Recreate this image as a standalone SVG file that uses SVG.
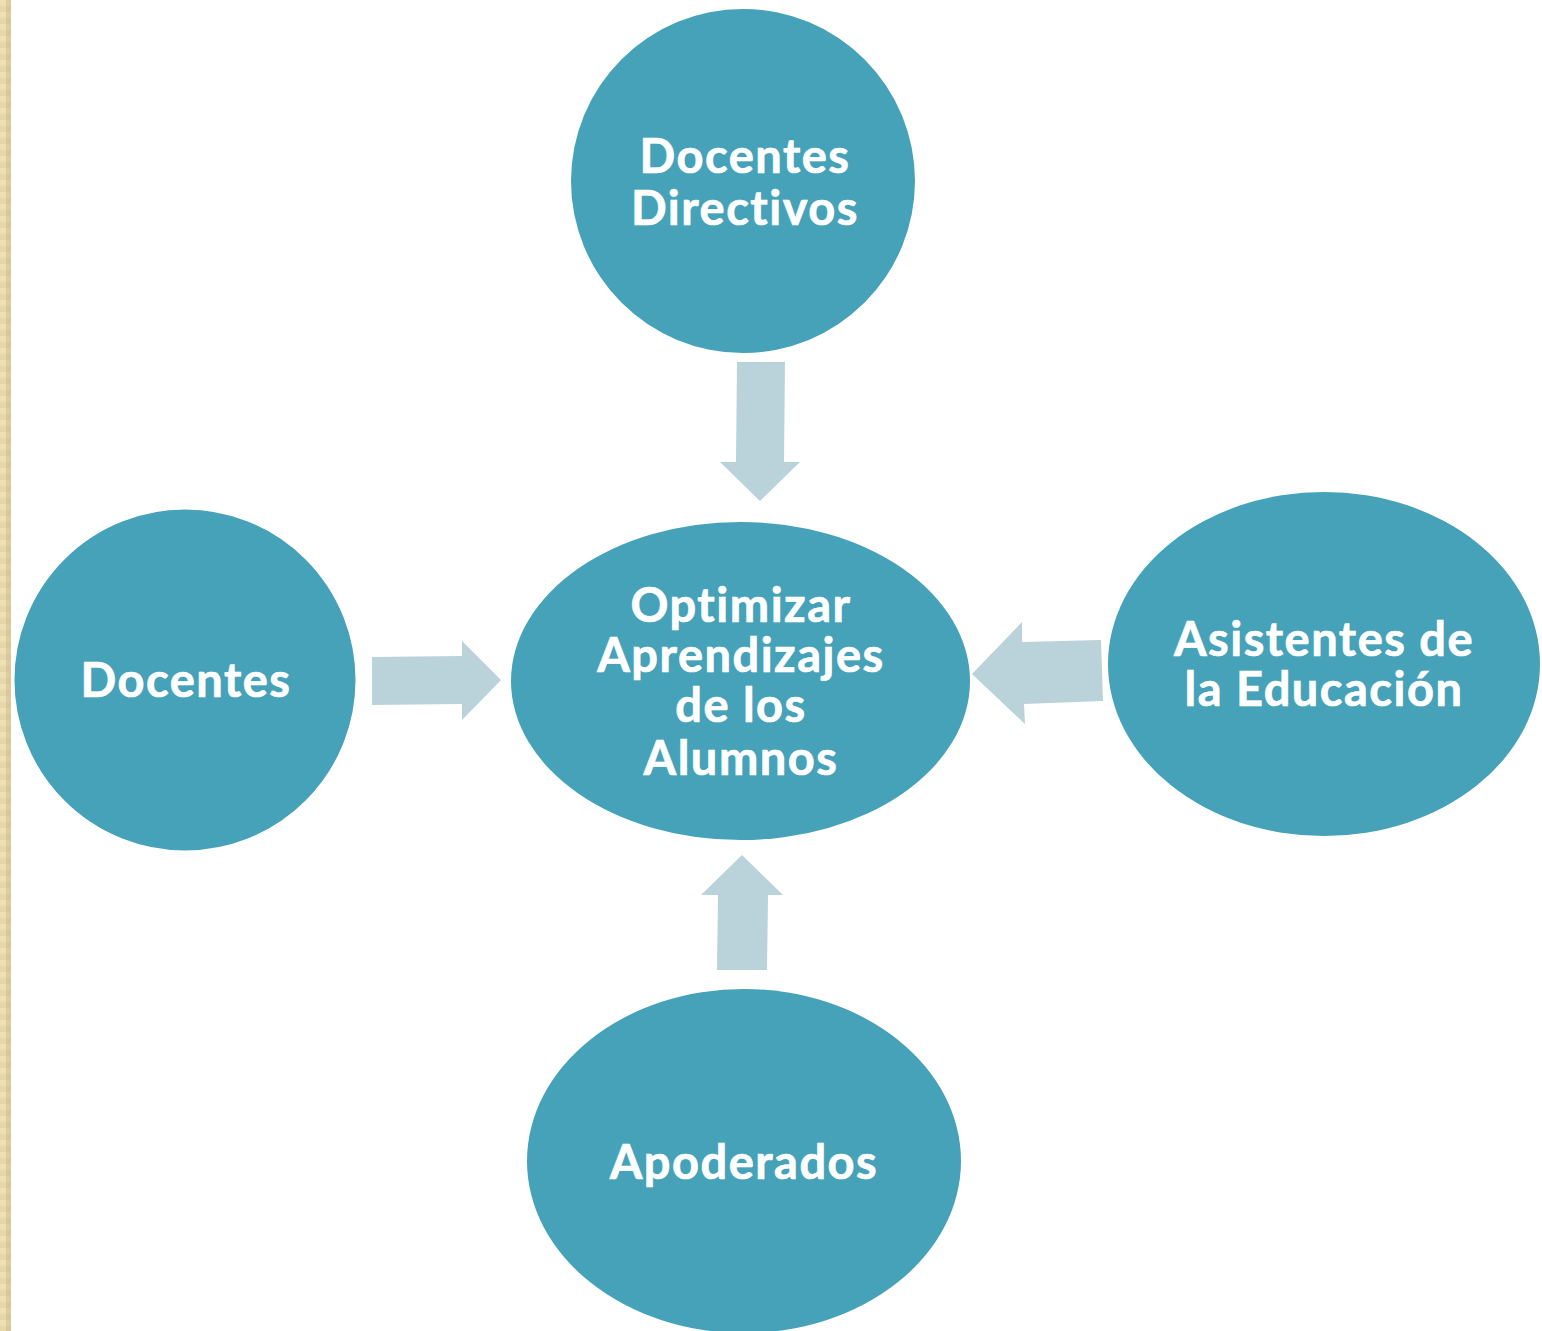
<svg xmlns="http://www.w3.org/2000/svg" width="1542" height="1331" viewBox="0 0 1542 1331">
<defs>
<pattern id="chk" x="0" y="0" width="12" height="12" patternUnits="userSpaceOnUse">
<rect width="12" height="12" fill="#e6d7a8"/>
<rect x="0" y="0" width="6" height="6" fill="#eee0b4"/>
<rect x="6" y="6" width="6" height="6" fill="#d7c79a"/>
<rect x="6" y="0" width="6" height="6" fill="#dccc9f"/>
</pattern>
<style>
.node{fill:#45a2b8}
.lbl{fill:#ffffff;stroke:#ffffff;stroke-width:0.7;font-family:Lato,"Open Sans","Liberation Sans",sans-serif;font-weight:700;font-size:47px;letter-spacing:1.5px;font-variant-ligatures:none;text-anchor:middle}
.arrow{fill:#bad2da}
</style>
</defs>
<rect width="1542" height="1331" fill="#ffffff"/>
<rect x="0" y="0" width="11" height="1331" fill="url(#chk)"/>
<g id="connectors">
<polygon class="arrow" points="737,362 785,362 784,462 800,462 760,501 720,462 736,462"/>
<polygon class="arrow" points="372,657 462,656 462,641 501,680 462,720 462,704 372,705"/>
<polygon class="arrow" points="1101,640 1103,701 1024,704 1025,724 972,674 1022,622 1022,642"/>
<polygon class="arrow" points="742,855 783,895 768,895 767,970 717,970 718,895 701,895"/>
</g>
<g id="node-directivos">
<circle class="node" cx="743" cy="181" r="172"/>
<text class="lbl" x="745" y="173">Docentes</text>
<text class="lbl" x="745" y="225">Directivos</text>
</g>
<g id="node-docentes">
<circle class="node" cx="185" cy="680" r="172" stroke="#ffffff" stroke-width="3"/>
<text class="lbl" x="186" y="697">Docentes</text>
</g>
<g id="node-center">
<ellipse class="node" cx="740.5" cy="681" rx="229.5" ry="159"/>
<text class="lbl" x="741" y="622">Optimizar</text>
<text class="lbl" x="741" y="672">Aprendizajes</text>
<text class="lbl" x="741" y="722">de los</text>
<text class="lbl" x="741" y="775">Alumnos</text>
</g>
<g id="node-asistentes">
<ellipse class="node" cx="1324" cy="664" rx="216" ry="172"/>
<text class="lbl" x="1324" y="656">Asistentes de</text>
<text class="lbl" x="1324" y="706">la Educación</text>
</g>
<g id="node-apoderados">
<ellipse class="node" cx="744" cy="1161" rx="217" ry="172"/>
<text class="lbl" x="744" y="1179">Apoderados</text>
</g>
</svg>
